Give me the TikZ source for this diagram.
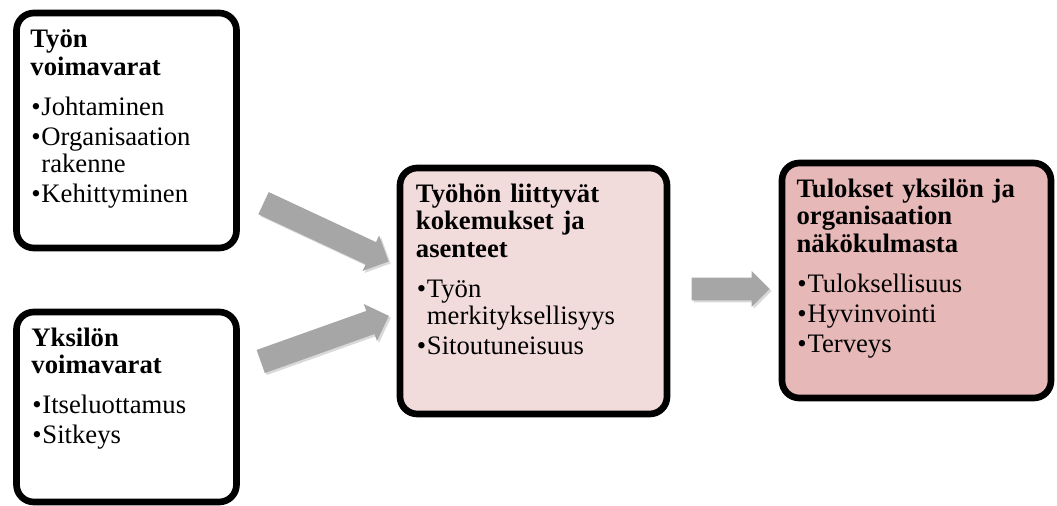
\documentclass[tikz,border=0pt]{standalone}
\usepackage{fontspec}
\setmainfont{Liberation Serif}
\usepackage{xcolor}
\usepackage{tikz}
\usetikzlibrary{positioning}
\usetikzlibrary{shapes.arrows}
\usetikzlibrary{shadows}
\definecolor{vaalea}{HTML}{F2DCDB}
\definecolor{tumma}{HTML}{E6B8B7}
\definecolor{harmaa}{HTML}{A6A6A6}
\newcommand{\otsikko}[1]{{\bfseries #1\par}\vspace{7.5pt}}
\newcommand{\kohta}[1]{\par\vspace{2pt}\hangindent=8.25pt\hangafter=1\noindent\makebox[8.25pt][c]{\textbullet}{\let\\\newline #1}\par}
\tikzset{
  varjo/.style={drop shadow={shadow xshift=1.5pt,shadow yshift=-1.5pt,opacity=0.3}},
  laatikko/.style={draw=black,line width=5pt,rounded corners=13pt,varjo},
  teksti/.style={inner sep=0pt,align=left,text width=#1,font=\fontsize{20}{20.5}\selectfont},
  teksti/.default=150pt,
  nuoli/.style={single arrow,fill=harmaa,draw=none,inner xsep=0pt,inner ysep=9pt,minimum width=29pt,single arrow head extend=5.5pt,varjo}
}

\begin{document}
\begin{tikzpicture}[x=0.75pt,y=-0.75pt]
    \useasboundingbox (0,0) rectangle (1057,506);
    \node[laatikko,fill=white,minimum width=165pt,minimum height=176.25pt] (tyo) at (126.5,130.5) {};
    \node[laatikko,fill=white,minimum width=165pt,minimum height=142.5pt] (yksilo) at (126.5,407) {};
    \node[laatikko,fill=vaalea,minimum width=200.25pt,minimum height=184.5pt] (kokemus) at (533.5,291) {};
    \node[laatikko,fill=tumma,minimum width=201.75pt,minimum height=176.25pt] (tulos) at (916.5,280.5) {};
    \node[teksti,below right=15pt and 12.75pt of tyo.north west] (tyoteksti)
        {\otsikko{Työn\\voimavarat}\kohta{Johtaminen}\kohta{Organisaation\\rakenne}\kohta{Kehittyminen}};
    \node[teksti,below right=14.25pt and 13.5pt of yksilo.north west] (yksiloteksti)
        {\otsikko{Yksilön\\voimavarat}\kohta{Itseluottamus}\kohta{Sitkeys}};
    \node[teksti=175pt,below right=14.25pt and 14.25pt of kokemus.north west] (kokemusteksti)
        {\otsikko{Työhön liittyvät\\kokemukset ja\\asenteet}\kohta{Työn\\merkityksellisyys}\kohta{Sitoutuneisuus}};
    \node[teksti=180pt,below right=14.25pt and 13.25pt of tulos.north west] (tulosteksti)
        {\otsikko{Tulokset yksilön ja\\organisaation\\näkökulmasta}\kohta{Tuloksellisuus}\kohta{Hyvinvointi}\kohta{Terveys}};
    \node[nuoli,minimum height=103.5pt,rotate=-25] (nuoli1) at (320.5,229.75) {};
    \node[nuoli,minimum height=102pt,rotate=19.6] (nuoli2) at (319,340.75) {};
    \node[nuoli,minimum height=58.5pt,minimum width=26.25pt,inner ysep=8.25pt,single arrow head extend=5pt] (nuoli3) at (725,289) {};
\end{tikzpicture}
\end{document}
